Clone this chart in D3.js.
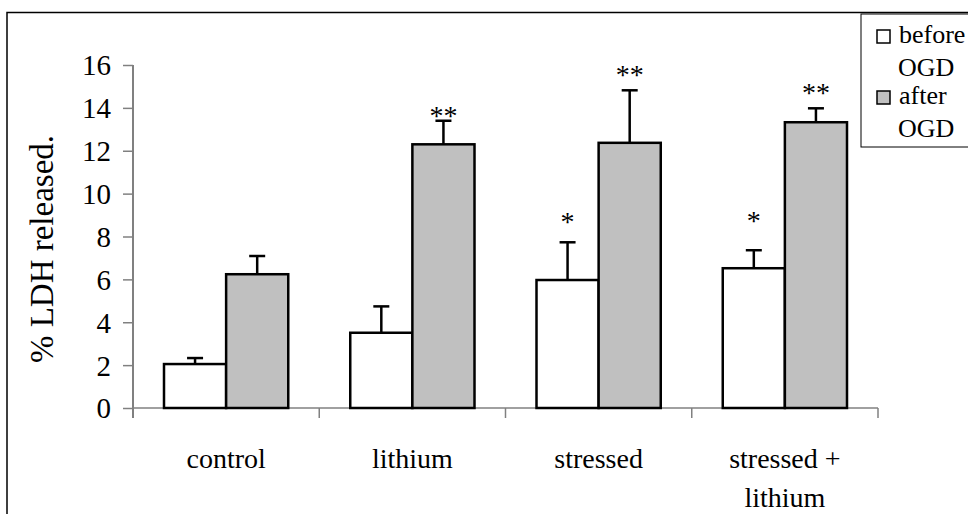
<!DOCTYPE html>
<html>
<head>
<meta charset="utf-8">
<script src="https://cdn.jsdelivr.net/npm/d3@7"></script>
</head>
<body style="margin:0;background:#fff">
<svg id="ldh" width="968" height="514" style="display:block"></svg>
<script>
// LDH release (% of total) per treatment group, before and after OGD
const categories = ["control", "lithium", "stressed", "stressed + lithium"];
const categoryLines = [["control"], ["lithium"], ["stressed"], ["stressed +", "lithium"]];
const seriesNames = ["before OGD", "after OGD"];
const beforeOGD = [2.05, 3.51, 5.97, 6.52];
const beforeSEM = [0.28, 1.23, 1.76, 0.84];
const afterOGD = [6.24, 12.30, 12.37, 13.33];
const afterSEM = [0.85, 1.10, 2.45, 0.65];
// significance markers and the value level at which each is centred
const beforeStars = ["", "", "*", "*"];
const beforeStarLevel = [null, null, 8.92, 8.97];
const afterStars = ["", "**", "**", "**"];
const afterStarLevel = [null, 13.90, 15.81, 14.93];
const yTicks = [0, 2, 4, 6, 8, 10, 12, 14, 16];

const FONT = "'Liberation Serif', 'Times New Roman', Times";
// apply the serif face to a text selection
function serif(sel, size) {
  return sel.attr("font-family", FONT)
    .style("font-family", FONT, "important")
    .style("font-size", size + "px", "important");
}

const svg = d3.select("#ldh");
const W = 968, H = 514;

// outer frame
svg.append("rect")
  .attr("x", 7).attr("y", 12.5)
  .attr("width", W).attr("height", H)
  .attr("fill", "none").attr("stroke", "#000").attr("stroke-width", 1.5);

const plot = { left: 133, right: 878, top: 65, bottom: 408 };

const x = d3.scaleBand().domain(categories)
  .range([plot.left, plot.right]).paddingInner(0).paddingOuter(0);
// the two bars of a group sit in the middle of each band, 31px in from its edges
const xs = d3.scaleBand().domain(seriesNames)
  .range([31, x.bandwidth() - 31]).paddingInner(0).paddingOuter(0);
const y = d3.scaleLinear().domain([0, 16]).range([plot.bottom, plot.top]);

const axisColor = "#808080";

// y axis
const yAxis = d3.axisLeft(y).tickValues(yTicks).tickSize(10).tickPadding(12).tickSizeOuter(0);
const gy = svg.append("g").attr("transform", `translate(${plot.left},0)`).call(yAxis);
gy.attr("font-family", FONT).attr("font-size", 29);
gy.select(".domain").remove();
gy.append("line").attr("x1", 0).attr("x2", 0)
  .attr("y1", plot.top).attr("y2", plot.bottom + 10)
  .attr("stroke", axisColor).attr("stroke-width", 2);
gy.selectAll(".tick line").attr("stroke", axisColor).attr("stroke-width", 1.5);
serif(gy.selectAll(".tick text"), 29)
  .attr("fill", "#000")
  .attr("dy", "0.34em");

// x axis
const gx = svg.append("g").attr("transform", `translate(0,${plot.bottom})`);
gx.append("line").attr("x1", plot.left).attr("x2", plot.right)
  .attr("y1", 0).attr("y2", 0)
  .attr("stroke", axisColor).attr("stroke-width", 1.5);
const bandEdges = categories.map(c => x(c) + x.bandwidth());
gx.selectAll("line.tick").data(bandEdges).enter().append("line")
  .attr("class", "tick")
  .attr("x1", d => d).attr("x2", d => d)
  .attr("y1", 0).attr("y2", 10)
  .attr("stroke", axisColor).attr("stroke-width", 1.5);

// category labels
const catLabels = svg.append("g");
categories.forEach((c, i) => {
  const t = serif(catLabels.append("text"), 28)
    .attr("x", x(c) + x.bandwidth() / 2)
    .attr("y", 468)
    .attr("text-anchor", "middle")
    .attr("fill", "#000");
  categoryLines[i].forEach((line, j) => {
    t.append("tspan").attr("x", x(c) + x.bandwidth() / 2)
      .attr("dy", j === 0 ? 0 : 39).text(line);
  });
});

// y axis title
serif(svg.append("text"), 33)
  .attr("transform", `translate(53,249) rotate(-90)`)
  .attr("text-anchor", "middle")
  .attr("fill", "#000")
  .text("% LDH released.");

// bars
const series = [
  { name: seriesNames[0], values: beforeOGD, sem: beforeSEM, fill: "#ffffff", stars: beforeStars, starLevel: beforeStarLevel },
  { name: seriesNames[1], values: afterOGD, sem: afterSEM, fill: "#c0c0c0", stars: afterStars, starLevel: afterStarLevel }
];

const barsG = svg.append("g");
series.forEach(s => {
  const rows = categories.map((c, i) => ({ c, v: s.values[i], e: s.sem[i], star: s.stars[i], lvl: s.starLevel[i] }));
  const bx = d => x(d.c) + xs(s.name);
  const bw = xs.bandwidth();

  // error bars (upper half only)
  barsG.selectAll(null).data(rows).enter().append("line")
    .attr("x1", d => bx(d) + bw / 2).attr("x2", d => bx(d) + bw / 2)
    .attr("y1", d => y(d.v)).attr("y2", d => y(d.v + d.e))
    .attr("stroke", "#000").attr("stroke-width", 2.5);
  barsG.selectAll(null).data(rows).enter().append("line")
    .attr("x1", d => bx(d) + bw / 2 - 8).attr("x2", d => bx(d) + bw / 2 + 8)
    .attr("y1", d => y(d.v + d.e)).attr("y2", d => y(d.v + d.e))
    .attr("stroke", "#000").attr("stroke-width", 2.5);

  barsG.selectAll(null).data(rows).enter().append("rect")
    .attr("x", bx).attr("width", bw)
    .attr("y", d => y(d.v)).attr("height", d => y(0) - y(d.v))
    .attr("fill", s.fill).attr("stroke", "#000").attr("stroke-width", 2.5);

  serif(barsG.selectAll(null).data(rows.filter(d => d.star)).enter().append("text"), 28)
    .attr("x", d => bx(d) + bw / 2)
    .attr("y", d => y(d.lvl))
    .attr("dy", "0.52em")
    .attr("text-anchor", "middle")
    .attr("fill", "#000")
    .text(d => d.star);
});

// legend
const lg = svg.append("g");
lg.append("rect").attr("x", 861).attr("y", 14).attr("width", 120).attr("height", 133)
  .attr("fill", "#fff").attr("stroke", "#000").attr("stroke-width", 1);
const legendRows = [
  { lines: ["before", "OGD"], fill: "#ffffff", base: 43 },
  { lines: ["after", "OGD"], fill: "#c0c0c0", base: 104 }
];
legendRows.forEach(r => {
  lg.append("rect").attr("x", 877).attr("y", r.base - 13).attr("width", 13).attr("height", 13)
    .attr("fill", r.fill).attr("stroke", "#000").attr("stroke-width", 1.5);
  serif(lg.append("text"), 26).attr("x", 899).attr("y", r.base)
    .attr("fill", "#000").text(r.lines[0]);
  serif(lg.append("text"), 26).attr("x", 898).attr("y", r.base + 33)
    .attr("fill", "#000").text(r.lines[1]);
});
</script>
</body>
</html>
